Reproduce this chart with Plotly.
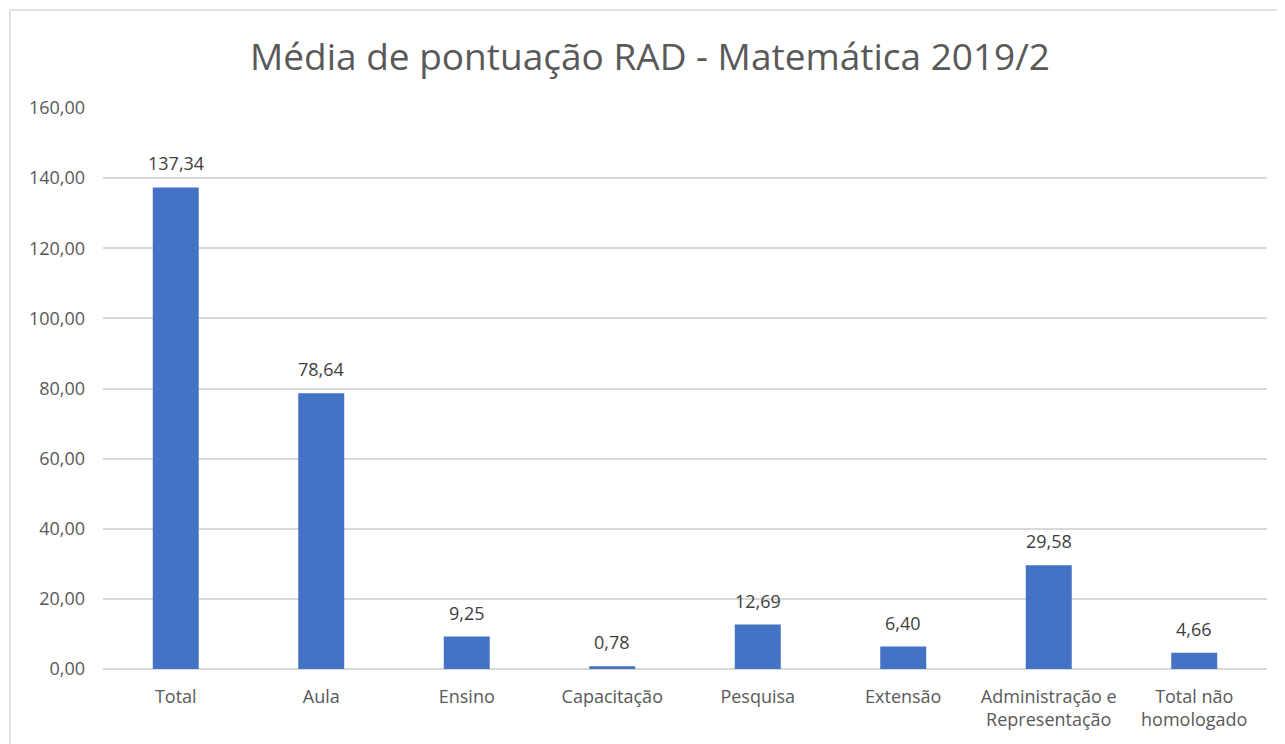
import plotly.graph_objects as go

categories = ["Total", "Aula", "Ensino", "Capacitação", "Pesquisa", "Extensão",
              "Administração e<br>Representação", "Total não<br>homologado"]
values = [137.34, 78.64, 9.25, 0.78, 12.69, 6.40, 29.58, 4.66]
y_ticks = [0, 20, 40, 60, 80, 100, 120, 140, 160]
labels = [f"{v:.2f}".replace(".", ",") for v in values]

OFF = 8  # page body margin
W, H = 1285 - OFF, 744 - OFF
L, R, T, B = 103 - OFF, 18, 108 - OFF, 75
pw = W - L - R
ph = H - T - B

fig = go.Figure(go.Bar(
    x=categories, y=values,
    marker=dict(color="#4472C4", line=dict(width=0)),
    hoverinfo="x+y",
))

for c, v, t in zip(categories, values, labels):
    fig.add_annotation(x=c, y=v, text=t, showarrow=False, yanchor="bottom",
                       yshift=10, font=dict(size=18, color="#404040", family="Open Sans"))

fig.update_layout(
    width=W, height=H,
    margin=dict(l=L, r=R, t=T, b=B, pad=0),
    paper_bgcolor="white", plot_bgcolor="white",
    separators=",.",
    bargap=0.684,
    showlegend=False,
    title=dict(text="Média de pontuação RAD - Matemática 2019/2",
               x=(650 - OFF) / W, xanchor="center", y=1 - (57 - OFF) / H, yanchor="middle",
               font=dict(size=37, color="#595959", family="Open Sans")),
    font=dict(family="Open Sans", color="#595959", size=18),
    xaxis=dict(showgrid=False, showline=False, ticks="",
               tickfont=dict(size=18, color="#595959"), ticklabelstandoff=15),
    yaxis=dict(range=[0, 160], tickvals=y_ticks, tickformat=".2f",
               showgrid=True, gridcolor="#D9D9D9", gridwidth=1.5,
               zeroline=True, zerolinecolor="#D9D9D9", zerolinewidth=1.5,
               showline=False, ticks="", ticklabelstandoff=17,
               tickfont=dict(size=18, color="#595959")),
    shapes=[dict(type="rect", xref="paper", yref="paper",
                 x0=(10 - 103) / pw, x1=(1300 - 103) / pw,
                 y0=-(B + 30) / ph,
                 y1=(669 - 10) / ph,
                 line=dict(color="#D9D9D9", width=1.5), fillcolor="rgba(0,0,0,0)",
                 layer="below")],
)

fig.write_html("out.html")
